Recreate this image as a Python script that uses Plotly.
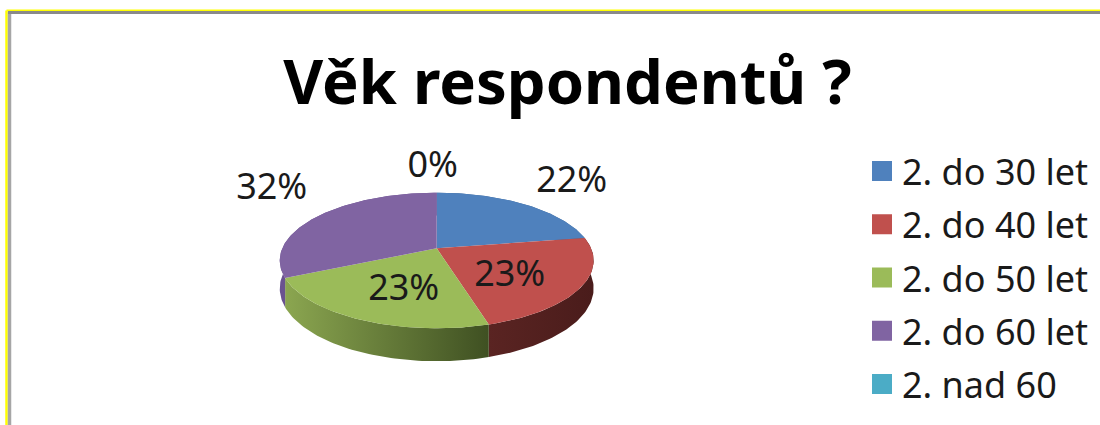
import math
import plotly.graph_objects as go

title = "Věk respondentů ?"
categories = ["2. do 30 let", "2. do 40 let", "2. do 50 let", "2. do 60 let", "2. nad 60"]
values = [22.4, 23.1, 22.6, 31.9, 0.0]
colors = ["#4f81bd", "#c0504d", "#9bbb59", "#8064a2", "#4bacc6"]
side_left = ["#3f6797", "#5a2422", "#8ba650", "#6a5290", "#3a8a9e"]
side_right = ["#3f6797", "#4a1c1b", "#3f5022", "#6a5290", "#3a8a9e"]
label_dx = [135, 73, -33, -165, -4]
label_dy = [-65, 29, 43, -58, -80]

K = 0.18; AY = 65.6; BX = 154.4; DEPTH = 27.0
CX = 436.7; CY = 248.3


def project(theta, drop=0.0):
    X, Y = math.sin(theta), math.cos(theta)
    d = 1 + K * Y
    return BX * X / d, (AY * Y - drop) / d


fig = go.Figure()
total = sum(values)
start = 0.0
arcs = []
for v in values:
    end = start + v / total * 2 * math.pi
    n = max(2, int(v * 3))
    arcs.append([start + (end - start) * i / n for i in range(n + 1)])
    start = end

for i, arc in enumerate(arcs):
    if values[i] == 0:
        continue
    top = [project(t) for t in arc]
    bot = [project(t, DEPTH) for t in reversed(arc)]
    pts = top + bot + [top[0]]
    fig.add_trace(go.Scatter(
        x=[p[0] for p in pts], y=[p[1] for p in pts], mode="lines",
        line=dict(width=0), fill="toself",
        fillgradient=dict(type="horizontal", colorscale=[[0, side_left[i]], [1, side_right[i]]]),
        hoverinfo="skip", showlegend=False))

for i, arc in enumerate(arcs):
    if values[i] == 0:
        continue
    pts = [(0, 0)] + [project(t) for t in arc] + [(0, 0)]
    fig.add_trace(go.Scatter(
        x=[p[0] for p in pts], y=[p[1] for p in pts], mode="lines",
        line=dict(width=0), fill="toself", fillcolor=colors[i],
        name=categories[i], hoverinfo="name", showlegend=False))

fig.add_trace(go.Scatter(
    x=label_dx, y=[-d for d in label_dy], mode="text",
    text=[f"{v:.0f}%" for v in values],
    textfont=dict(family="Noto Sans", size=36, color="#1a1a1a"),
    hoverinfo="skip", showlegend=False))

for c, col in zip(categories, colors):
    fig.add_trace(go.Scatter(
        x=[None], y=[None], mode="markers", name=c, legendgroup=c,
        marker=dict(symbol="square", size=16, color=col, line=dict(color=col, width=4))))

BORDER = [
    (6.5, 10.5, 6.5, 425, "#ffff00", 2.5),
    (6.5, 10.5, 1100, 10.5, "#ffff00", 2),
    (9.5, 12, 9.5, 425, "#a6a6a6", 3.5),
    (8, 12.5, 1100, 12.5, "#8a8a8a", 3),
]
shapes = [dict(type="line", xref="paper", yref="paper",
               x0=a / 1100, y0=1 - b / 425, x1=c / 1100, y1=1 - d / 425,
               line=dict(color=col, width=w))
          for a, b, c, d, col, w in BORDER]

fig.update_layout(
    width=1100, height=425, autosize=False,
    margin=dict(l=0, r=0, t=0, b=0),
    paper_bgcolor="white", plot_bgcolor="white",
    xaxis=dict(range=[-CX, 1100 - CX], visible=False, fixedrange=True),
    yaxis=dict(range=[-(425 - CY), CY], visible=False, fixedrange=True),
    title=dict(text=f"<b>{title}</b>", x=567.5 / 1100, xanchor="center", y=1 - 82 / 425, yanchor="middle",
               font=dict(family="Noto Sans", size=61.5, color="black")),
    legend=dict(x=862 / 1100, y=1 - 141 / 425, xanchor="left", yanchor="top",
                font=dict(family="Noto Sans", size=36, color="#1a1a1a"),
                tracegroupgap=3.5, itemclick=False, itemdoubleclick=False,
                bgcolor="rgba(0,0,0,0)", traceorder="grouped"),
    shapes=shapes,
    showlegend=True,
)
fig.write_html("out.html", config={"displayModeBar": False},
               post_script="document.body.style.margin='0';document.body.style.overflow='hidden';")
